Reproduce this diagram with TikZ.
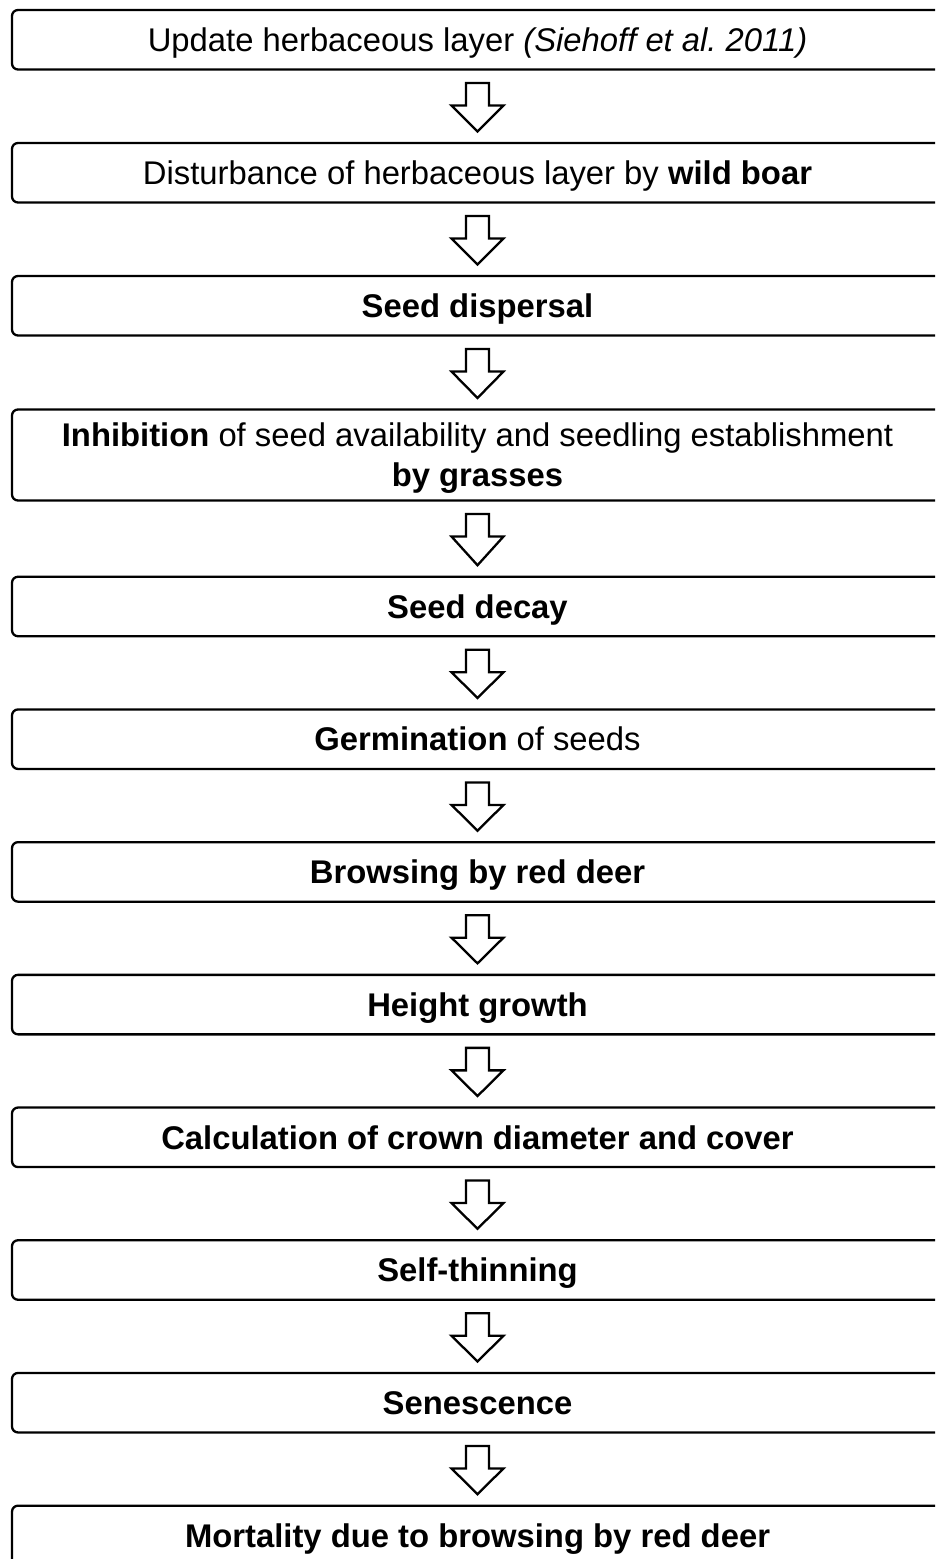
\documentclass[tikz,border=0pt]{standalone}
\usepackage{fontspec}
\setmainfont{Liberation Sans}
\usetikzlibrary{calc}
\tikzset{
  stepbox/.style={draw=black, line width=2.3pt, rounded corners=6pt, fill=white,
    minimum width=931pt, minimum height=59.5pt, inner sep=0pt, outer sep=0pt,
    font=\fontsize{32.8pt}{40pt}\selectfont, text height=23.4pt, text depth=0pt},
  tallbox/.style={stepbox, minimum height=91pt, align=center, text height=63.4pt, text depth=-6pt},
  barrow/.style={draw=black, line width=2.3pt, fill=white, line join=miter}
}
\newcommand\blockarrow[2]{%
  \draw[barrow] ($(#1.south)+(-11.5pt,-13.5pt)$) -- ($(#1.south)+(11.5pt,-13.5pt)$)
    -- ($(#1.south)+(11.5pt,-36pt)$) -- ($(#1.south)+(26pt,-36pt)$)
    -- ($(#2.north)+(0pt,11.5pt)$)
    -- ($(#1.south)+(-26pt,-36pt)$) -- ($(#1.south)+(-11.5pt,-36pt)$) -- cycle;}
\begin{document}
\begin{tikzpicture}[x=1pt,y=1pt]
  \useasboundingbox (0,0) rectangle (935,-1559);
  \fill[white] (0,0) rectangle (935,-1559);
  \clip (0,0) rectangle (935,-1559);
  \node[stepbox] (b1) at (477.5,-39.75) {Update herbaceous layer \textit{(Siehoff et al.\ 2011)}};
  \node[stepbox] (b2) at (477.5,-172.75) {Disturbance of herbaceous layer by \textbf{wild boar}};
  \node[stepbox] (b3) at (477.5,-305.75) {\textbf{Seed dispersal}};
  \node[tallbox] (b4) at (477.5,-455) {\textbf{Inhibition} of seed availability and seedling establishment\\\textbf{by grasses}};
  \node[stepbox] (b5) at (477.5,-606.5) {\textbf{Seed decay}};
  \node[stepbox] (b6) at (477.5,-739.2) {\textbf{Germination} of seeds};
  \node[stepbox] (b7) at (477.5,-871.9) {\textbf{Browsing by red deer}};
  \node[stepbox] (b8) at (477.5,-1004.6) {\textbf{Height growth}};
  \node[stepbox] (b9) at (477.5,-1137.3) {\textbf{Calculation of crown diameter and cover}};
  \node[stepbox] (b10) at (477.5,-1270) {\textbf{Self-thinning}};
  \node[stepbox] (b11) at (477.5,-1402.7) {\textbf{Senescence}};
  \node[stepbox] (b12) at (477.5,-1535.4) {\textbf{Mortality due to browsing by red deer}};
  \blockarrow{b1}{b2}
  \blockarrow{b2}{b3}
  \blockarrow{b3}{b4}
  \blockarrow{b4}{b5}
  \blockarrow{b5}{b6}
  \blockarrow{b6}{b7}
  \blockarrow{b7}{b8}
  \blockarrow{b8}{b9}
  \blockarrow{b9}{b10}
  \blockarrow{b10}{b11}
  \blockarrow{b11}{b12}
\end{tikzpicture}
\end{document}
